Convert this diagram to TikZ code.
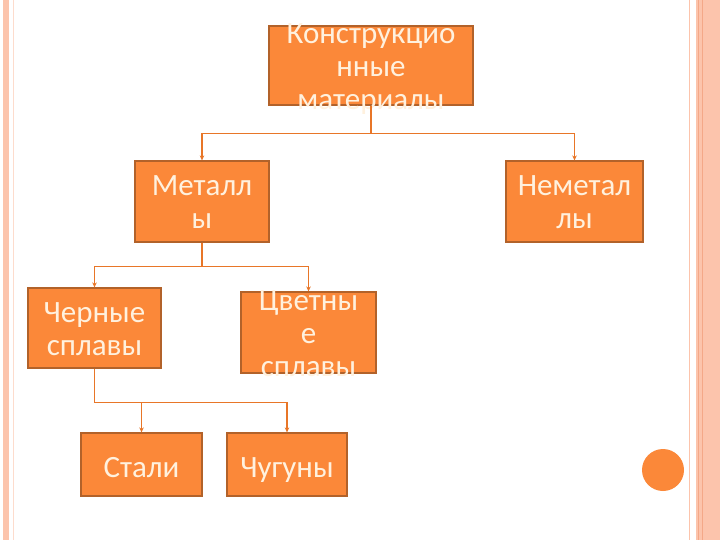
\documentclass[tikz,border=0pt]{standalone}
\usepackage{fontspec}
\setmainfont{Carlito}
\usepackage{xcolor}
\definecolor{Col1}{RGB}{251,136,57}
\definecolor{Col2}{RGB}{178,98,42}
\definecolor{Col3}{RGB}{232,118,40}
\definecolor{Col4}{RGB}{255,241,222}
\definecolor{Col5}{RGB}{252,196,172}
\definecolor{Col6}{RGB}{244,168,136}
\usepackage{tikz}
\usetikzlibrary{arrows.meta}
\tikzstyle{Box}=[rectangle,draw=Col2,fill=Col1,line width=1.2pt,inner sep=0pt]
\tikzstyle{Label}=[text=Col4,align=center,inner sep=0pt,yshift=-6pt,
font=\fontsize{31}{33}\selectfont,
execute at begin node=\strut,execute at end node=\strut]
\tikzstyle{Edge}=[draw=Col3,line width=1.4pt,-{Stealth[length=5pt,width=4.5pt]}]
\tikzstyle{Stripe}=[fill=Col5,draw=none]

\begin{document}
\begin{tikzpicture}[x=1pt,y=-1pt]
        \useasboundingbox(0,0)rectangle(720,540);
        \fill[white](0,0)rectangle(720,540);
        % side stripes
        \fill[Stripe](3,0)rectangle(9,540);
        \draw[Col5!60,line width=1pt](13,0)--(13,540);
        \draw[Col5,line width=1pt](689,0)--(689,540);
        \fill[Stripe](696,0)rectangle(720,540);
        \draw[Col6,line width=1pt](698,0)--(698,540);
        \draw[Col6,line width=1pt](702,0)--(702,540);
        % boxes
        \node[Box,minimum width=204pt,minimum height=79pt](0)at(371,65.5){};
        \node[Box,minimum width=134pt,minimum height=81pt](1)at(202,201.5){};
        \node[Box,minimum width=137pt,minimum height=81pt](2)at(574.5,201.5){};
        \node[Box,minimum width=133pt,minimum height=80pt](3)at(94.5,328){};
        \node[Box,minimum width=135pt,minimum height=81pt](4)at(308.5,332.5){};
        \node[Box,minimum width=121pt,minimum height=63pt](5)at(141.5,464.5){};
        \node[Box,minimum width=120pt,minimum height=63pt](6)at(287,464.5){};
        \node[circle,fill=Col1,draw=none,minimum size=42pt](7)at(663,470){};
        % texts
        \node[Label](0t)at(0.center){Конструкцио\\нные\\материалы};
        \node[Label](1t)at(1.center){Металл\\ы};
        \node[Label](2t)at(2.center){Неметал\\лы};
        \node[Label](3t)at(3.center){Черные\\сплавы};
        \node[Label](4t)at(4.center){Цветны\\е\\сплавы};
        \node[Label](5t)at(5.center){Стали};
        \node[Label](6t)at(6.center){Чугуны};
        % connectors
        \draw[Edge](0.south)--++(0,28)-|(1.north);
        \draw[Edge](0.south)--++(0,28)-|(2.north);
        \draw[Edge](1.south)--++(0,24)-|(3.north);
        \draw[Edge](1.south)--++(0,24)-|(4.north);
        \draw[Edge](3.south)--++(0,34)-|(5.north);
        \draw[Edge](3.south)--++(0,34)-|(6.north);
    \end{tikzpicture}
\end{document}
